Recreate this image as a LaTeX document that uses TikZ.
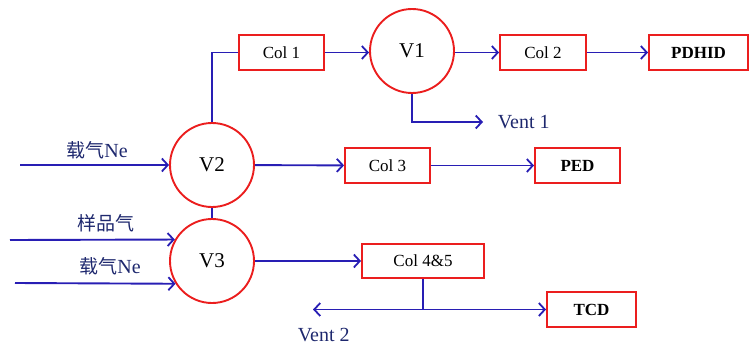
\documentclass[tikz,border=0pt]{standalone}
\usepackage{fontspec}
\setmainfont{Liberation Serif}
\newfontfamily\cjk{Noto Sans CJK SC}
\usetikzlibrary{arrows.meta}
\definecolor{ln}{RGB}{40,30,180}
\definecolor{bx}{RGB}{235,30,30}
\definecolor{tx}{RGB}{30,40,110}
\begin{document}
\begin{tikzpicture}[x=1pt,y=-1pt,line width=1.9pt,
  valve/.style={circle,draw=bx,minimum size=84pt,inner sep=0pt,font=\fontsize{21}{21}\selectfont},
  colbox/.style={draw=bx,minimum height=35pt,inner sep=0pt,font=\fontsize{17}{17}\selectfont},
  detbox/.style={colbox,font=\fontsize{17}{17}\selectfont\bfseries},
  arr/.style={draw=ln,-{Straight Barb[length=6pt,width=13pt,line width=1.8pt]}},
  pipe/.style={draw=ln},
  lbl/.style={text=tx,inner sep=0pt,font=\fontsize{20}{20}\selectfont}]
\useasboundingbox (0,0) rectangle (750,348);
\node[valve] (V1) at (412,51) {V1};
\node[valve] (V2) at (212,165) {V2};
\node[valve] (V3) at (212,261) {V3};
\node[colbox,minimum width=85pt] (C1) at (281.5,52.5) {Col 1};
\node[colbox,minimum width=86pt] (C2) at (543,52.5) {Col 2};
\node[detbox,minimum width=99pt] (PDHID) at (698.5,52.5) {PDHID};
\node[colbox,minimum width=85pt] (C3) at (387.5,165.5) {Col 3};
\node[detbox,minimum width=85pt] (PED) at (577.5,165.5) {PED};
\node[colbox,minimum width=122pt,minimum height=34pt] (C45) at (423,261) {Col 4\&5};
\node[detbox,minimum width=89pt] (TCD) at (591.5,309.5) {TCD};
\coordinate (vent1) at (483,122);
\coordinate (in1) at (20,165);
\coordinate (in2) at (10,240);
\coordinate (in3) at (15,283);
\coordinate (vent2) at (313,309.5);
\coordinate (j) at (C45.south |- TCD);
\node[lbl,anchor=west] (v1l) at (497,122) {Vent 1};
\node[lbl,anchor=west] (v2l) at (297,335) {Vent 2};
\node[lbl] (g1) at (97,150) {{\cjk\fontsize{19}{19}\selectfont 载气}Ne};
\node[lbl] (g2) at (106,223) {{\cjk\fontsize{19}{19}\selectfont 样品气}};
\node[lbl] (g3) at (110,266) {{\cjk\fontsize{19}{19}\selectfont 载气}Ne};
\draw[pipe] (V2.north) |- (C1.west);
\draw[arr] (C1) -- (V1.west |- C1);
\draw[arr] (V1.east |- C2) -- (C2);
\draw[arr] (C2) -- (PDHID);
\draw[arr] (V1.south) |- (vent1);
\draw[arr] (in1) -- (V2);
\draw[arr] (V2) -- (C3);
\draw[arr] (C3) -- (PED);
\draw[pipe] (V2.south) -- (V3.north);
\draw[arr] (in2) -- (V3.150);
\draw[arr] (in3) -- (V3.212);
\draw[arr] (V3) -- (C45);
\draw[pipe] (C45.south) -- (j);
\draw[arr] (j) -- (vent2);
\draw[arr] (j) -- (TCD);
\end{tikzpicture}
\end{document}
